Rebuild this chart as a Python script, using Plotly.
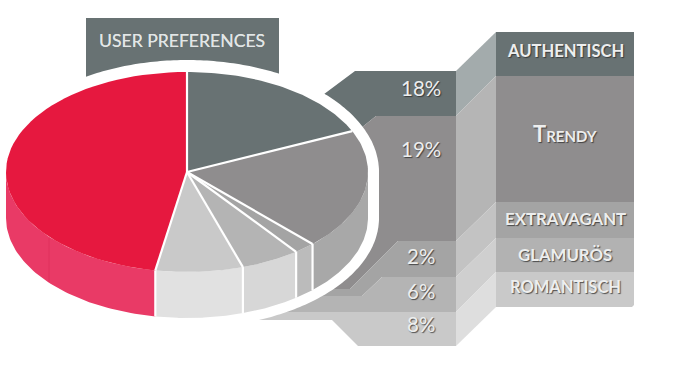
import math
import plotly.graph_objects as go

# ---- data ----
title = "USER PREFERENCES"
categories = ["AUTHENTISCH", "Trendy", "EXTRAVAGANT", "GLAMURÖS", "ROMANTISCH", "Other"]
percent_labels = [18, 19, 2, 6, 8]
# slice shares as drawn in the picture
values = [18.3, 19.5, 1.9, 5.3, 7.8, 47.2]
top_colors = ["#687273", "#8F8D8E", "#A4A4A4", "#B4B4B4", "#C9C9C9", "#E6183F"]
side_colors = ["#8A9192", "#A8A8A8", "#BBBBBB", "#D7D7D7", "#E1E1E1", "#E93A66"]
name_sizes = [16.6, 22, 16.8, 16.8, 16.5]

# ---- pie geometry ----
CX, CY, RX, RY, DEPTH = 187, 172, 181, 100, 46

def pt(deg, dy=0):
    t = math.radians(deg)
    return CX + RX * math.sin(t), CY - RY * math.cos(t) + dy

def arc(a, b, dy=0, n=60):
    pts = [pt(a + (b - a) * i / n, dy) for i in range(n + 1)]
    return [p[0] for p in pts], [p[1] for p in pts]

fig = go.Figure()
total = sum(values)
angles = [0]
for v in values:
    angles.append(angles[-1] + 360 * v / total)

# sides (front half only)
for i, v in enumerate(values):
    a, b = max(angles[i], 90), min(angles[i + 1], 270)
    if b <= a:
        continue
    x1, y1 = arc(a, b)
    x2, y2 = arc(b, a, DEPTH)
    fig.add_trace(go.Scatter(x=x1 + x2 + x1[:1], y=y1 + y2 + y1[:1], mode="lines", fill="toself",
                             fillcolor=side_colors[i], line=dict(width=0), hoverinfo="skip", showlegend=False))
# tops
for i, v in enumerate(values):
    x1, y1 = arc(angles[i], angles[i + 1])
    fig.add_trace(go.Scatter(x=[CX] + x1 + [CX], y=[CY] + y1 + [CY], mode="lines", fill="toself",
                             fillcolor=top_colors[i], line=dict(width=0), name=categories[i],
                             hoverinfo="name", showlegend=False))
# white separators
sx, sy = [], []
for a in angles[:-1]:
    ex, ey = pt(a)
    sx += [CX, ex, None]
    sy += [CY, ey, None]
    if 90 <= a <= 270:
        bx, by = pt(a, DEPTH)
        sx += [ex, bx, None]
        sy += [ey, by, None]
fig.add_trace(go.Scatter(x=sx, y=sy, mode="lines", line=dict(color="white", width=2.2),
                         hoverinfo="skip", showlegend=False))

# ---- decorative panels and ribbons ----
def poly(points, color):
    d = "M" + " L".join(f"{x},{y}" for x, y in points) + " Z"
    return dict(type="path", path=d, xref="x", yref="y", fillcolor=color, line=dict(width=0), layer="below")

shapes = [
    poly([(86, 18), (279, 18), (279, 90), (86, 90)], "#687273"),
    # left ribbons
    poly([(300, 112), (355, 71), (456, 71), (456, 116), (376, 116), (340, 145)], "#687273"),
    poly([(340, 145), (376, 116), (456, 116), (456, 241), (398, 241), (350, 289), (300, 289)], "#8F8D8E"),
    poly([(398, 241), (456, 241), (456, 277), (382, 277), (362, 296), (290, 296), (290, 289), (350, 289)], "#A4A4A4"),
    poly([(382, 277), (456, 277), (456, 312), (250, 312), (250, 296), (362, 296)], "#B4B4B4"),
    poly([(240, 312), (456, 312), (456, 346), (358, 346), (332, 320), (240, 320)], "#C9C9C9"),
    # connectors
    poly([(456, 71), (496, 32), (496, 76), (456, 116)], "#A3ABAC"),
    poly([(456, 116), (496, 76), (496, 202), (456, 241)], "#B5B5B5"),
    poly([(456, 241), (496, 202), (496, 238), (456, 277)], "#C3C3C3"),
    poly([(456, 277), (496, 238), (496, 272), (456, 312)], "#CFCFCF"),
    poly([(456, 312), (496, 272), (496, 307), (456, 346)], "#DEDEDE"),
    # right panels
    poly([(496, 32), (634, 32), (634, 76), (496, 76)], "#687273"),
    poly([(496, 76), (634, 76), (634, 202), (496, 202)], "#8F8D8E"),
    poly([(496, 202), (634, 202), (634, 238), (496, 238)], "#A4A4A4"),
    poly([(496, 238), (634, 238), (634, 272), (496, 272)], "#B2B2B2"),
    poly([(496, 272), (634, 272), (634, 305), (632, 307), (496, 307)], "#C9C9C9"),
]
# white halo round the pie
hx, hy = [], []
for i in range(0, 181):
    t = math.radians(i - 90)
    hx.append(CX + 192 * math.sin(t)); hy.append(CY - 112 * math.cos(t))
for i in range(0, 181):
    t = math.radians(90 + i)
    hx.append(CX + 192 * math.sin(t)); hy.append(CY + DEPTH - 110 * math.cos(t))
shapes.append(poly([(round(x, 1), round(y, 1)) for x, y in zip(hx, hy)], "#FFFFFF"))
# seam on the red side
shapes.append(dict(type="line", xref="x", yref="y", x0=49, x1=49, y0=238, y1=282,
                   line=dict(color="#E0305C", width=1), layer="above"))

# ---- text ----
FONT = "Lato"
ann = []
def label(x, y, text, size, color="#EDEEEE", family=FONT, weight=400, variant="normal", shadow="1px 1px 1px rgba(40,40,40,0.75)"):
    ann.append(dict(x=x, y=y, xref="x", yref="y", text=text, showarrow=False, xanchor="center", yanchor="middle",
                    font=dict(size=size, color=color, family=family, weight=weight, variant=variant, shadow=shadow)))

label(182, 40, title, 17.6, color="#E2E6E6", shadow="0 0 0.6px rgba(226,230,230,0.9)")
for (y, v) in zip([88, 149, 256, 291, 324], percent_labels):
    label(421, y, f"{v}%", 20.5)
name_y = [51, 133, 218, 254, 287]
for i, y in enumerate(name_y):
    if i == 1:
        label(565, y, categories[i], name_sizes[i], weight=700, variant="small-caps")
    else:
        label(565, y, categories[i], name_sizes[i], weight=700)

fig.update_layout(
    width=690, height=380, margin=dict(l=0, r=0, t=0, b=0), paper_bgcolor="white", plot_bgcolor="white",
    xaxis=dict(range=[0, 690], visible=False, fixedrange=True),
    yaxis=dict(range=[380, 0], visible=False, fixedrange=True),
    shapes=shapes, annotations=ann, showlegend=False,
)
fig.write_html("out.html", post_script="document.body.style.margin='0';", config={"displayModeBar": False})
